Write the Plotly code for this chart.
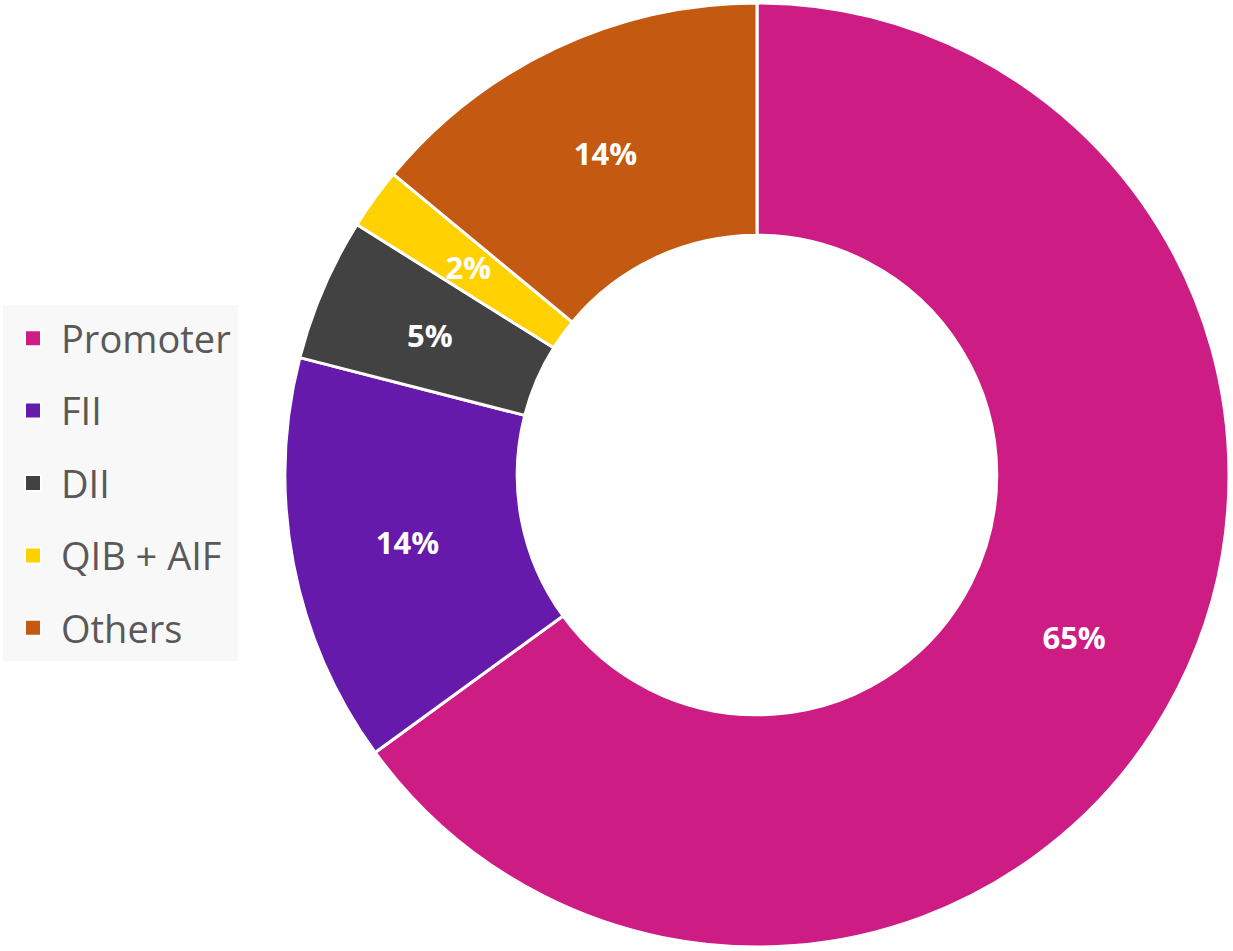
import plotly.graph_objects as go

labels = ["Promoter", "FII", "DII", "QIB + AIF", "Others"]
values = [65.0, 14.0, 4.9, 2.1, 14.0]
colors = ["#CD1C83", "#651AAB", "#424242", "#FFD100", "#C45A11"]

# which slices carry their label on the main ring / on the thin label ring
main_textpos = ["inside", "inside", "none", "none", "inside"]
thin_textpos = ["none", "none", "inside", "inside", "none"]

W, H = 1233, 951
cx, cy, R = 757, 475, 472          # donut centre / outer radius (px)
hole = 0.508

fig = go.Figure()

fig.add_trace(go.Pie(
    labels=labels,
    values=values,
    sort=False,
    direction="clockwise",
    rotation=0,
    hole=hole,
    marker=dict(colors=colors, line=dict(color="white", width=3)),
    texttemplate="%{percent:.0%}",
    textposition=main_textpos,
    insidetextorientation="horizontal",
    textfont=dict(family="Open Sans", size=31, color="white", weight="bold"),
    domain=dict(x=[(cx - R) / W, (cx + R) / W], y=[1 - (cy + R) / H, 1 - (cy - R) / H]),
    showlegend=False,
    hoverinfo="label+percent",
))

# transparent thin ring centred on the middle of the donut, so the labels of
# the narrow slices sit at mid-ring like the reference
rmid = R * (1 + hole) / 2
ring = 0.1
R2 = rmid / (1 - ring / 2)
fig.add_trace(go.Pie(
    labels=labels,
    values=values,
    sort=False,
    direction="clockwise",
    rotation=0,
    hole=1 - ring,
    marker=dict(colors=["rgba(0,0,0,0)"] * len(values), line=dict(width=0)),
    texttemplate="%{percent:.0%}",
    textposition=thin_textpos,
    insidetextorientation="horizontal",
    textfont=dict(family="Open Sans", size=31, color="white", weight="bold"),
    domain=dict(x=[(cx - R2) / W, (cx + R2) / W], y=[1 - (cy + R2) / H, 1 - (cy - R2) / H]),
    showlegend=False,
    hoverinfo="skip",
))

# Legend entries (one group each so they can be spaced like the reference)
for i, (lab, col) in enumerate(zip(labels, colors)):
    fig.add_trace(go.Scatter(
        x=[None], y=[None],
        mode="markers",
        name=lab,
        legendgroup=f"g{i}",
        marker=dict(symbol="square", size=18, color=col,
                    line=dict(color="white", width=2)),
        showlegend=True,
    ))

fig.update_layout(
    width=W,
    height=H,
    margin=dict(l=0, r=0, t=0, b=0),
    paper_bgcolor="white",
    plot_bgcolor="white",
    uniformtext=dict(minsize=31, mode="show"),
    xaxis=dict(visible=False),
    yaxis=dict(visible=False),
    legend=dict(
        x=3 / W, y=1 - 305 / H,
        xanchor="left", yanchor="top",
        bgcolor="#F8F8F8",
        bordercolor="#F8F8F8",
        borderwidth=2,
        font=dict(family="Open Sans", size=38, color="#595959"),
        traceorder="grouped",
        tracegroupgap=20,
        itemwidth=46,
    ),
)

fig.write_html("out.html", config={"displayModeBar": False},
               post_script="document.body.style.margin='0';")
